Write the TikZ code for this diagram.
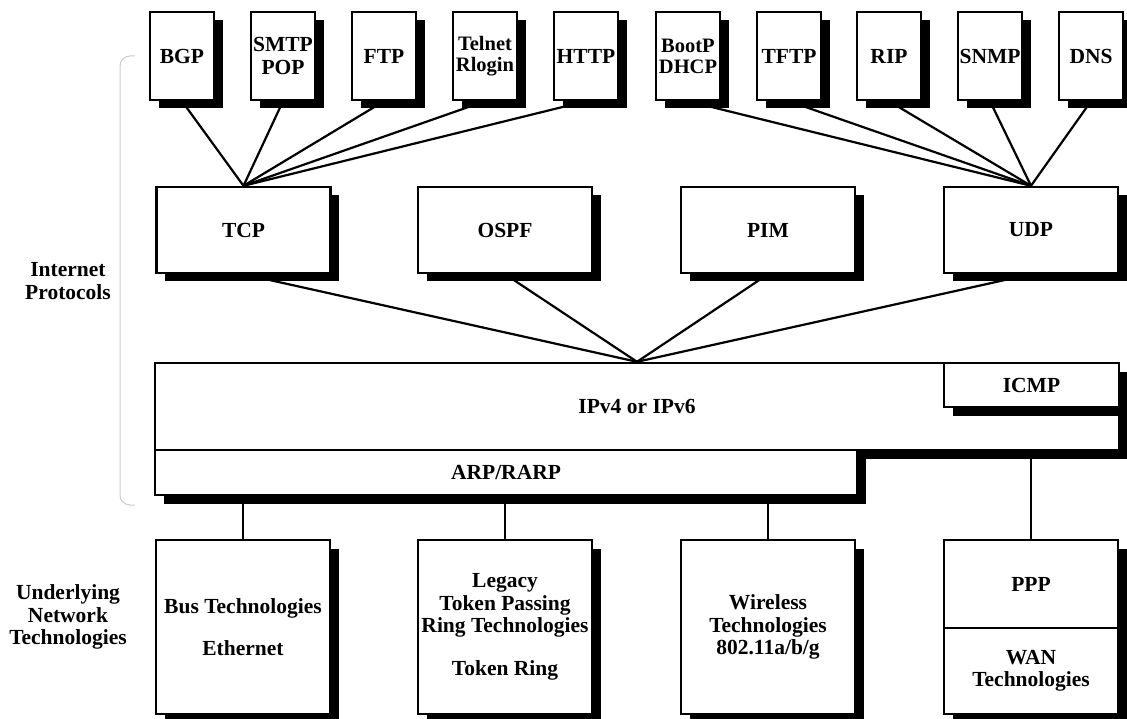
\documentclass[tikz,border=0pt]{standalone}
\usepackage{fontspec}
\setmainfont{Liberation Serif}
\usetikzlibrary{shadows}
\pgfdeclarelayer{background}
\pgfsetlayers{background,main}
\begin{document}
\begin{tikzpicture}[x=1pt,y=-1pt,
  every node/.style={font=\fontsize{21.5}{22.5}\selectfont\bfseries, align=center, inner sep=0pt},
  small/.style={font=\fontsize{20.5}{21}\selectfont\bfseries},
  box/.style={draw, fill=white, line width=2.4pt, rectangle,
    drop shadow={shadow xshift=8.5pt, shadow yshift=-8.5pt, fill=black, opacity=1}},
  topbox/.style={box, minimum width=64pt, minimum height=88pt},
  midbox/.style={box, minimum width=174pt, minimum height=86pt},
  botbox/.style={box, minimum width=174pt, minimum height=174pt},
  link/.style={line width=2.2pt},
  brace/.style={draw=black!20, line width=1pt, rounded corners=10pt},
  lbl/.style={}
]
\useasboundingbox (0,0) rectangle (1127,719);
% top row
\node[topbox] (bgp)    at (182,56)  {BGP};
\node[topbox] (smtp)   at (283,56)  {SMTP\\POP};
\node[topbox] (ftp)    at (384,56)  {FTP};
\node[topbox, small] (telnet) at (485,56) {Telnet\\Rlogin};
\node[topbox] (http)   at (586,56)  {HTTP};
\node[topbox, small] (bootp)  at (688,56) {BootP\\DHCP};
\node[topbox] (tftp)   at (789,56)  {TFTP};
\node[topbox] (rip)    at (889,56)  {RIP};
\node[topbox] (snmp)   at (990,56)  {SNMP};
\node[topbox] (dns)    at (1091,56) {DNS};
% middle row
\node[midbox] (tcp)  at (243.5,230) {TCP};
\node[midbox] (ospf) at (505,230)   {OSPF};
\node[midbox] (pim)  at (768,230)   {PIM};
\node[midbox] (udp)  at (1031,230)  {UDP};
% IP layer
\node[box, minimum width=964pt, minimum height=87pt] (ip) at (637,406.5) {IPv4 or IPv6};
\node[box, minimum width=702pt, minimum height=45pt] (arp) at (506,472.5) {ARP/RARP};
\node[box, minimum width=175pt, minimum height=44pt] (icmp) at (1031.5,385) {ICMP};
% bottom row
\node[botbox] (bus) at (243,627) {Bus Technologies\\[20pt]Ethernet};
\node[botbox] (legacy) at (505,627) {Legacy\\Token Passing\\Ring Technologies\\[20pt]Token Ring};
\node[botbox] (wireless) at (768,627) {Wireless\\Technologies\\802.11a/b/g};
\node[box, minimum width=174pt, minimum height=88pt] (ppp) at (1031,584) {PPP};
\node[box, minimum width=174pt, minimum height=86pt] (wan) at (1031,671) {WAN\\Technologies};
% left labels
\node[lbl] (inet) at (68,281) {Internet\\Protocols};
\node[lbl] (unet) at (68,617) {Underlying\\Network\\Technologies};
\draw[brace] (135,56) -- (120,56) -- (120,505) -- (135,505);
\begin{pgfonlayer}{background}
  \fill[white] (0,0) rectangle (1127,719);
  \foreach \n in {bgp,smtp,ftp,telnet,http} \draw[link] (tcp.north) -- (\n.south);
  \foreach \n in {bootp,tftp,rip,snmp,dns} \draw[link] (udp.north) -- (\n.south);
  \foreach \n in {tcp,ospf,pim,udp} \draw[link] (\n.south) -- (ip.north);
  \foreach \n in {bus,legacy,wireless} \draw[link] (\n.north) -- (\n.north |- arp.south);
  \draw[link] (ppp.north) -- (ppp.north |- ip.south);
\end{pgfonlayer}
\end{tikzpicture}
\end{document}
